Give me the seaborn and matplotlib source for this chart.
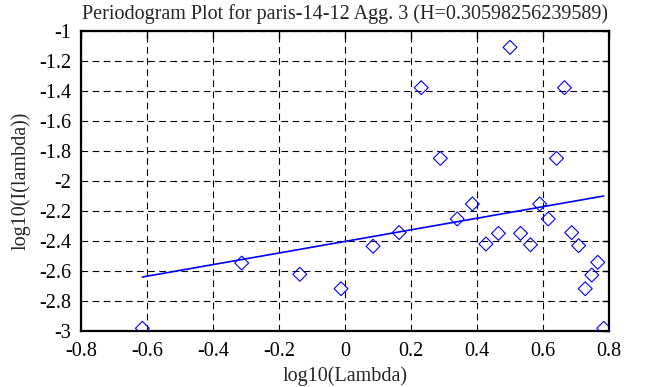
import numpy as np
import pandas as pd
import matplotlib
matplotlib.use("Agg")
import matplotlib.pyplot as plt
import seaborn as sns

# periodogram points
log_lambda = [-0.614, -0.313, -0.137, -0.012, 0.085, 0.164, 0.231, 0.289, 0.340,
              0.386, 0.427, 0.465, 0.500, 0.532, 0.562, 0.590, 0.616, 0.641,
              0.665, 0.687, 0.708, 0.728, 0.748, 0.766, 0.784]
log_I = [-2.982, -2.547, -2.622, -2.718, -2.435, -2.344, -1.378, -1.849, -2.253,
         -2.153, -2.420, -2.349, -1.109, -2.349, -2.425, -2.153, -2.253, -1.849,
         -1.378, -2.344, -2.431, -2.718, -2.627, -2.542, -2.982]

# fitted line end points
fit_x = [-0.614, 0.784]
fit_y = [-2.64, -2.10]

title = "Periodogram Plot for paris-14-12 Agg. 3 (H=0.30598256239589)"

sns.set_style("white")
plt.rcParams['font.family'] = ['Liberation Serif', 'DejaVu Serif']

df = pd.DataFrame({'x': log_lambda, 'y': log_I})
fit = pd.DataFrame({'x': fit_x, 'y': fit_y})

fig = plt.figure(figsize=(6.53, 3.87), dpi=100)
ax = fig.add_axes([81/653, 1 - 331/387, 528/653, 300/387])

sns.lineplot(data=fit, x='x', y='y', color='#0000ff', linewidth=1.2, ax=ax)
sns.scatterplot(data=df, x='x', y='y', marker='D', s=50, facecolors='none',
                edgecolor='#0000ff', linewidth=0.8, ax=ax, zorder=3)

ax.set_xlim(-0.8, 0.8)
ax.set_ylim(-3, -1)
ax.set_xticks(np.arange(-0.8, 0.81, 0.2))
ax.set_yticks(np.arange(-3, -0.99, 0.2))
ax.set_xticklabels(['-0.8', '-0.6', '-0.4', '-0.2', '0', '0.2', '0.4', '0.6', '0.8'])
ax.set_yticklabels(['-3', '-2.8', '-2.6', '-2.4', '-2.2', '-2', '-1.8', '-1.6', '-1.4', '-1.2', '-1'])
ax.tick_params(direction='in', length=5, width=1, top=True, right=True,
               labelsize=14.5, colors='black')
ax.tick_params(axis='x', pad=8)
ax.tick_params(axis='y', pad=7)
ax.grid(True, color='black', linestyle=(0, (6, 4)), linewidth=0.8)
for sp in ax.spines.values():
    sp.set_linewidth(1.6)
    sp.set_color('black')

ax.set_xlabel('log10(Lambda)', fontsize=14.5, labelpad=4)
ax.set_ylabel('log10(I(lambda))', fontsize=14.5, labelpad=6)
ax.set_title(title, fontsize=14.5, pad=9)

fig.savefig('out.png', dpi=100)
